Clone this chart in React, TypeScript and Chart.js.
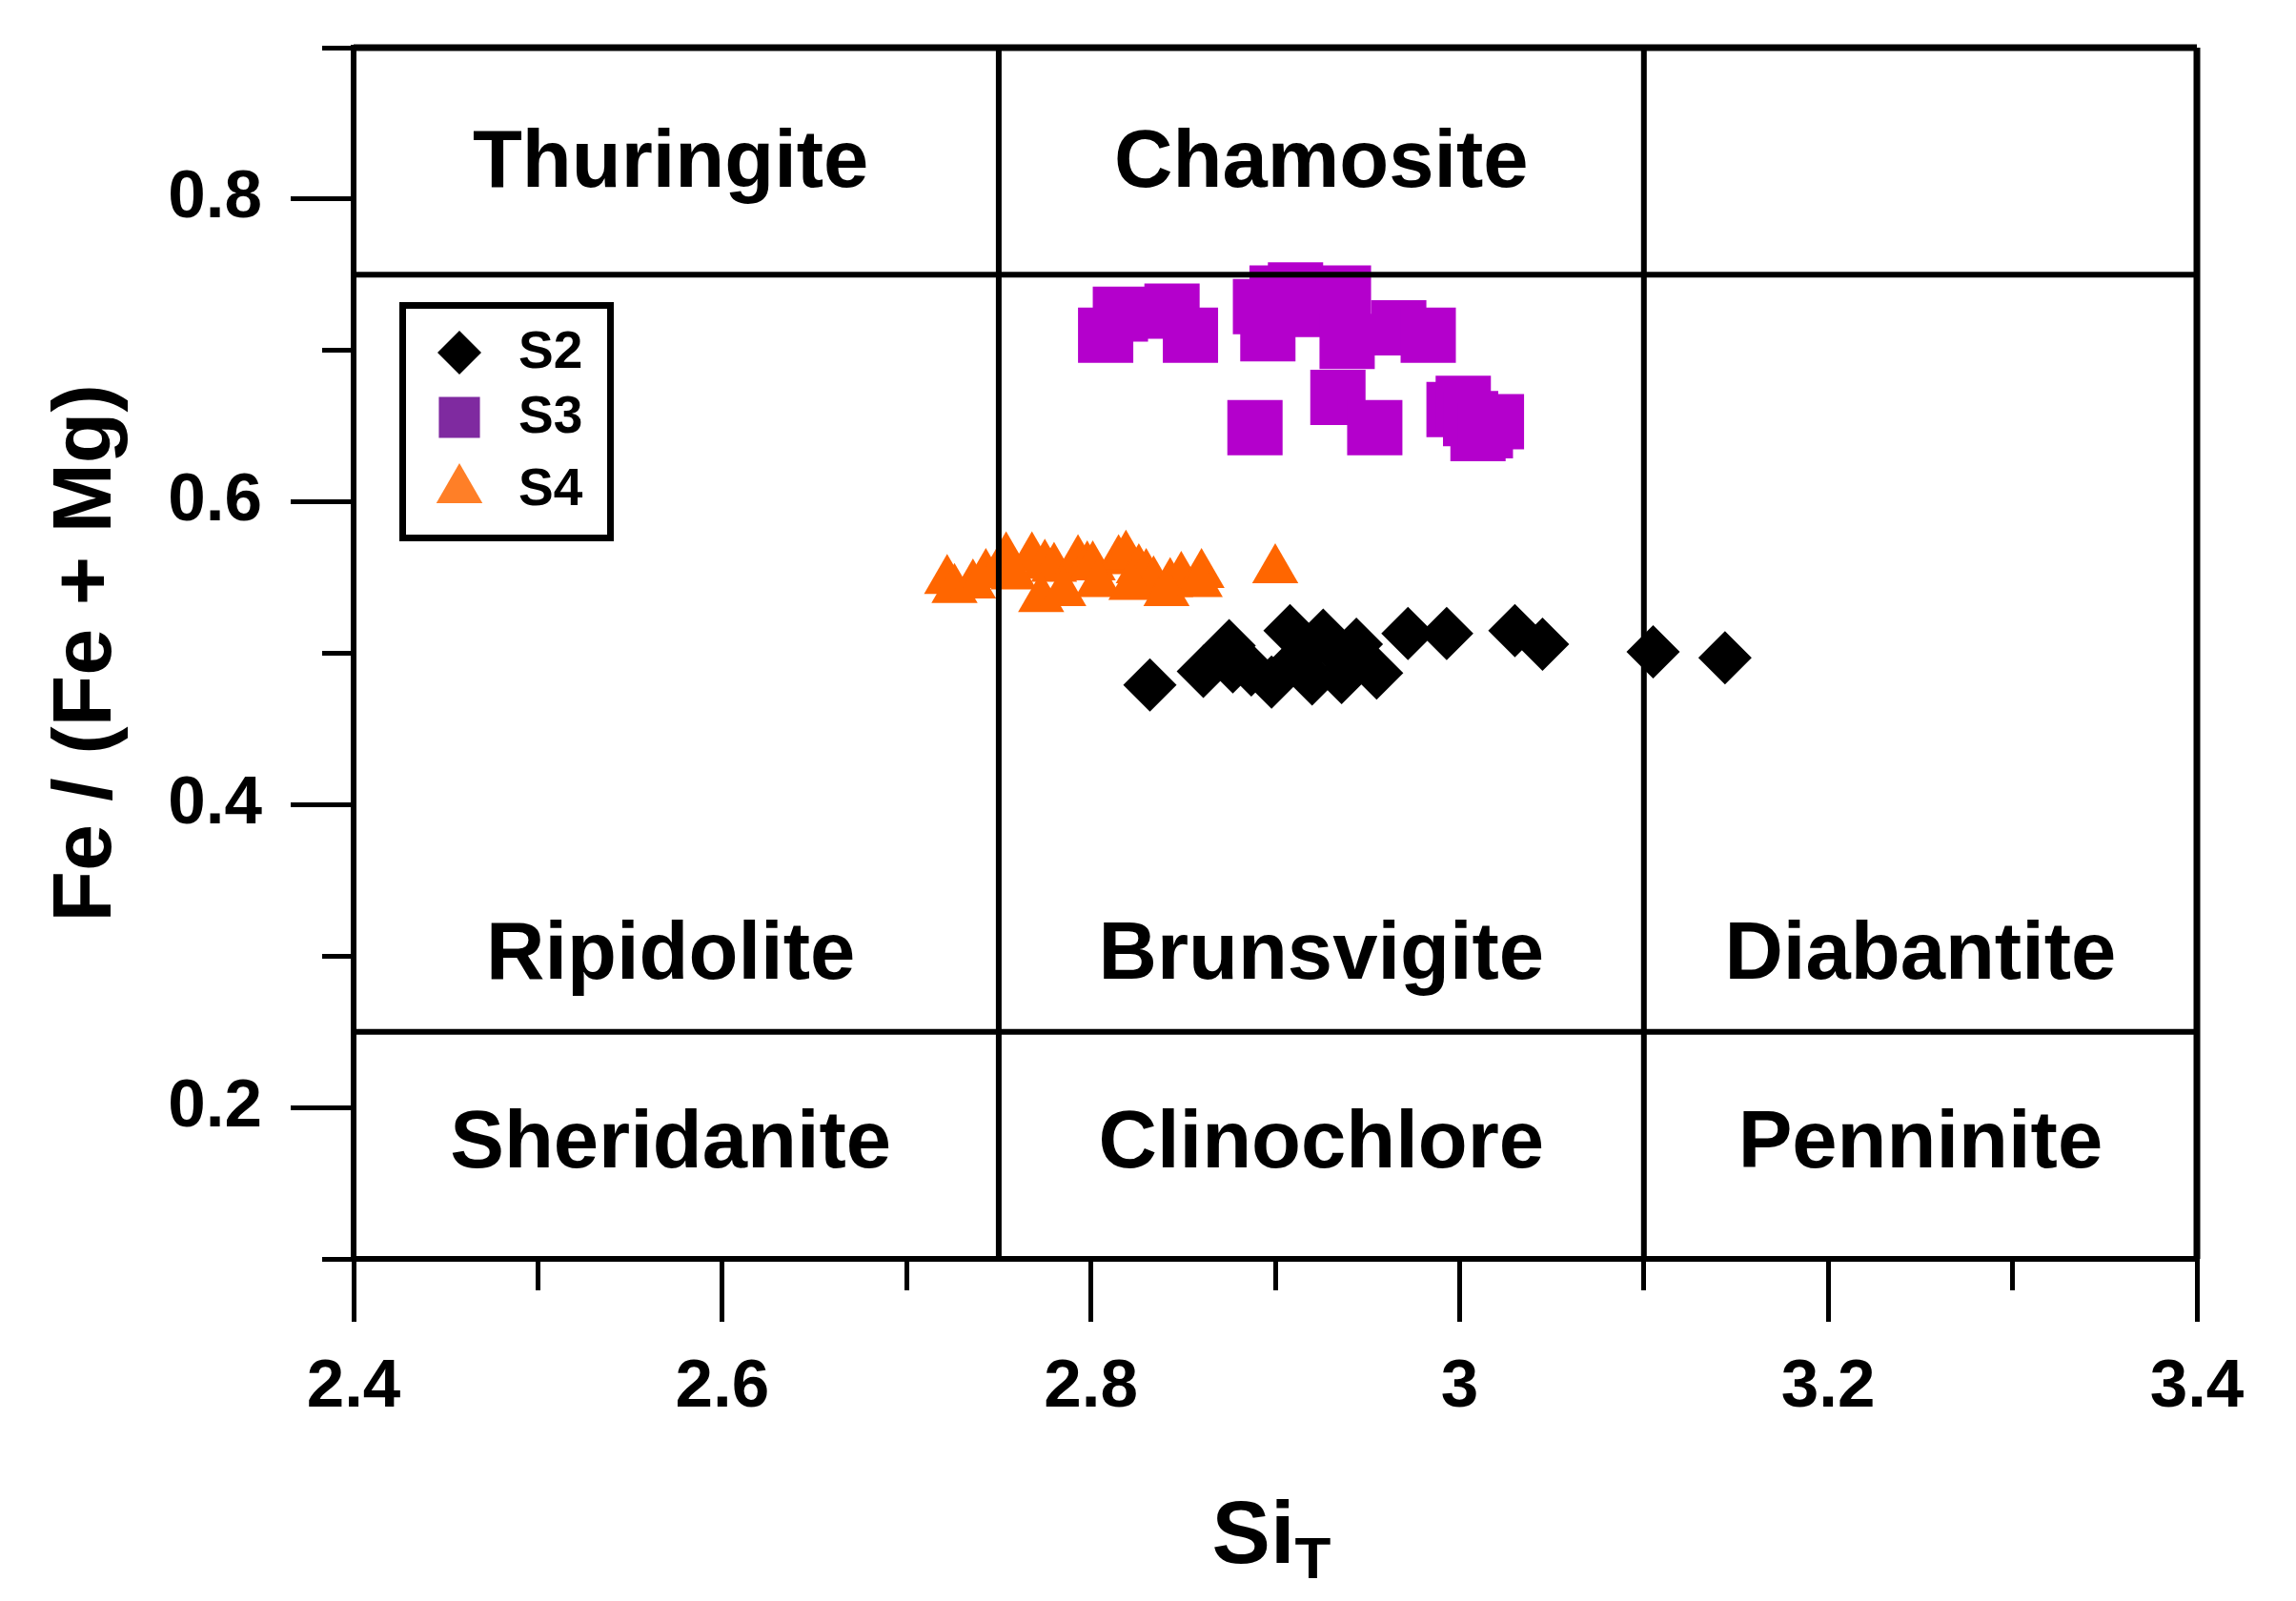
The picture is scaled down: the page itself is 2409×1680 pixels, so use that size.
import React, { useEffect, useRef } from 'react';
import { Chart, registerables } from 'chart.js';
import { drawPoint } from 'chart.js/helpers';

Chart.register(...registerables);

const FONT = '"Liberation Sans", Arial, Helvetica, sans-serif';

// ---- axis ticks ----
const xMajorTicks = [2.4, 2.6, 2.8, 3.0, 3.2, 3.4];
const xTickLabels = ['2.4', '2.6', '2.8', '3', '3.2', '3.4'];
const xMinorTicks = [2.4, 2.5, 2.6, 2.7, 2.8, 2.9, 3.0, 3.1, 3.2, 3.3, 3.4];
const yMajorTicks = [0.2, 0.4, 0.6, 0.8];
const yTickLabels = ['0.2', '0.4', '0.6', '0.8'];
const yMinorTicks = [0.1, 0.2, 0.3, 0.4, 0.5, 0.6, 0.7, 0.8, 0.9];

// ---- series ----
const s2X = [2.832, 2.861, 2.875, 2.877, 2.887, 2.898, 2.908, 2.926, 2.944, 2.920, 2.936, 2.955, 2.972, 2.993, 2.913, 2.937, 3.030, 3.045, 3.105, 3.144];
const s2Y = [0.479, 0.488, 0.505, 0.491, 0.489, 0.481, 0.515, 0.512, 0.506, 0.483, 0.484, 0.487, 0.513, 0.513, 0.497, 0.497, 0.515, 0.506, 0.501, 0.497];

const s3X = [2.808, 2.816, 2.844, 2.854, 2.896, 2.892, 2.901, 2.911, 2.937, 2.918, 2.967, 2.983, 2.939, 2.934, 2.954, 2.889, 2.997, 3.002, 3.020, 3.010, 3.006, 3.014];
const s3Y = [0.710, 0.724, 0.726, 0.710, 0.711, 0.729, 0.738, 0.740, 0.738, 0.727, 0.715, 0.710, 0.706, 0.669, 0.649, 0.649, 0.661, 0.665, 0.653, 0.645, 0.655, 0.647];

const s4X = [2.722, 2.726, 2.736, 2.743, 2.754, 2.768, 2.775, 2.780, 2.793, 2.798, 2.801, 2.815, 2.819, 2.826, 2.830, 2.834, 2.843, 2.849, 2.860, 2.900, 2.773, 2.785, 2.804, 2.822, 2.841, 2.859, 2.758];
const s4Y = [0.548, 0.542, 0.545, 0.552, 0.563, 0.563, 0.558, 0.556, 0.561, 0.557, 0.557, 0.561, 0.564, 0.555, 0.552, 0.547, 0.546, 0.550, 0.552, 0.555, 0.536, 0.540, 0.546, 0.544, 0.540, 0.546, 0.551];

// ---- classification diagram boundaries ----
const segX = [[2.4, 3.4], [2.4, 3.4], [2.4, 3.4], [2.75, 2.75], [3.1, 3.1], [3.4, 3.4]];
const segY = [[0.9, 0.9], [0.75, 0.75], [0.25, 0.25], [0.1, 0.9], [0.1, 0.9], [0.1, 0.9]];

const regionNames = ['Thuringite', 'Chamosite', 'Ripidolite', 'Brunsvigite', 'Diabantite', 'Sheridanite', 'Clinochlore', 'Penninite'];
const regionX = [2.572, 2.925, 2.572, 2.925, 3.25, 2.572, 2.925, 3.25];
const regionY = [0.823, 0.823, 0.30, 0.30, 0.30, 0.175, 0.175, 0.175];

const seriesNames = ['S2', 'S3', 'S4'];

export default function App() {
  const ref = useRef<HTMLCanvasElement>(null);

  useEffect(() => {
    document.body.style.margin = '0';
    const canvas = ref.current;
    if (!canvas) return;
    const pts = (xs: number[], ys: number[]) => xs.map((x, i) => ({ x, y: ys[i] }));

    const lineSets = segX.map((sx, i) => ({
      type: 'line' as const,
      label: 'boundary' + i,
      data: [{ x: sx[0], y: segY[i][0] }, { x: sx[1], y: segY[i][1] }],
      borderColor: '#000',
      borderWidth: i === 0 || i === 5 ? 7 : 6,
      pointRadius: 0,
      showLine: true,
      clip: false as const,
      xAxisID: 'x',
      yAxisID: 'y',
    }));

    const noPad = (s: any) => {
      s.paddingTop = 0;
      s.paddingBottom = 0;
      s.paddingLeft = 0;
      s.paddingRight = 0;
    };

    const regionPlugin = {
      id: 'regionLabels',
      afterDatasetsDraw(chart: any) {
        const { ctx } = chart;
        const xs = chart.scales.x;
        const ys = chart.scales.y;
        ctx.save();
        ctx.fillStyle = '#000';
        ctx.font = `bold 85px ${FONT}`;
        ctx.textAlign = 'center';
        ctx.textBaseline = 'middle';
        regionNames.forEach((n, i) => {
          ctx.fillText(n, xs.getPixelForValue(regionX[i]), ys.getPixelForValue(regionY[i]));
        });
        ctx.restore();
      },
    };

    const xTitlePlugin = {
      id: 'xTitle',
      afterDraw(chart: any) {
        const { ctx, chartArea } = chart;
        const cx = (chartArea.left + chartArea.right) / 2;
        ctx.save();
        ctx.fillStyle = '#000';
        ctx.textBaseline = 'alphabetic';
        ctx.textAlign = 'left';
        ctx.font = `bold 92px ${FONT}`;
        const w1 = ctx.measureText('Si').width;
        ctx.font = `bold 62px ${FONT}`;
        const w2 = ctx.measureText('T').width;
        const sx = cx - (w1 + w2) / 2 - 4;
        ctx.font = `bold 92px ${FONT}`;
        ctx.fillText('Si', sx, 1640);
        ctx.font = `bold 62px ${FONT}`;
        ctx.fillText('T', sx + w1, 1656);
        ctx.restore();
      },
    };

    const legendPlugin = {
      id: 'boxLegend',
      afterDraw(chart: any) {
        const { ctx } = chart;
        const styles = ['rectRot', 'rect', 'triangle'];
        const radii = [23, 30.5, 28];
        const colors = ['#000000', '#7F2AA0', '#FF7F27'];
        const rows = [370, 438, 514];
        ctx.save();
        ctx.fillStyle = '#fff';
        ctx.fillRect(422.5, 320.5, 218, 244);
        ctx.lineWidth = 7;
        ctx.strokeStyle = '#000';
        ctx.strokeRect(422.5, 320.5, 218, 244);
        seriesNames.forEach((name, i) => {
          ctx.fillStyle = colors[i];
          ctx.strokeStyle = colors[i];
          drawPoint(ctx, { pointStyle: styles[i], radius: radii[i], borderWidth: 0, rotation: 0 } as any, 482, rows[i]);
          ctx.fillStyle = '#000';
          ctx.font = `bold 55px ${FONT}`;
          ctx.textAlign = 'left';
          ctx.textBaseline = 'middle';
          ctx.fillText(name, 544, rows[i] + 1);
        });
        ctx.restore();
      },
    };

    const chart = new Chart(canvas, {
      type: 'scatter',
      data: {
        datasets: [
          ...lineSets,
          {
            label: seriesNames[0],
            data: pts(s2X, s2Y),
            pointStyle: 'rectRot',
            pointRadius: 28,
            backgroundColor: '#000000',
            borderWidth: 0,
            xAxisID: 'x',
            yAxisID: 'y',
          },
          {
            label: seriesNames[1],
            data: pts(s3X, s3Y),
            pointStyle: 'rect',
            pointRadius: 41,
            backgroundColor: '#B400CC',
            borderWidth: 0,
            xAxisID: 'x',
            yAxisID: 'y',
          },
          {
            label: seriesNames[2],
            data: pts(s4X, s4Y),
            pointStyle: 'triangle',
            pointRadius: 28,
            backgroundColor: '#FF6600',
            borderWidth: 0,
            xAxisID: 'x',
            yAxisID: 'y',
          },
        ] as any,
      },
      options: {
        animation: false,
        responsive: false,
        devicePixelRatio: 1,
        events: [],
        layout: { padding: { top: 50, right: 104, bottom: 0, left: 0 } },
        plugins: { legend: { display: false }, tooltip: { enabled: false } },
        scales: {
          x: {
            type: 'linear',
            axis: 'x',
            position: 'bottom',
            weight: 1,
            min: 2.4,
            max: 3.4,
            afterBuildTicks: (s: any) => { s.ticks = xMajorTicks.map((v) => ({ value: v })); },
            afterFit: (s: any) => { s.height = 359; noPad(s); },
            grid: { display: true, drawOnChartArea: false, drawTicks: true, tickLength: 66, tickWidth: 5, tickColor: '#000' },
            border: { display: true, color: '#000', width: 6 },
            ticks: {
              color: '#000',
              font: { family: FONT, size: 71, weight: 'bold' },
              padding: 27,
              maxRotation: 0,
              autoSkip: false,
              callback: (_v: any, i: number) => xTickLabels[i],
            },
            title: { display: false },
          },
          x2: {
            type: 'linear',
            axis: 'x',
            position: 'bottom',
            weight: 0,
            min: 2.4,
            max: 3.4,
            afterBuildTicks: (s: any) => { s.ticks = xMinorTicks.map((v) => ({ value: v })); },
            afterFit: (s: any) => { s.height = 0; noPad(s); },
            grid: { display: true, drawOnChartArea: false, drawTicks: true, tickLength: 33, tickWidth: 5, tickColor: '#000' },
            border: { display: false },
            ticks: { display: false },
          },
          y: {
            type: 'linear',
            axis: 'y',
            position: 'left',
            weight: 1,
            min: 0.1,
            max: 0.9,
            afterBuildTicks: (s: any) => { s.ticks = yMajorTicks.map((v) => ({ value: v })); },
            afterFit: (s: any) => { s.width = 371; noPad(s); },
            grid: { display: true, drawOnChartArea: false, drawTicks: true, tickLength: 66, tickWidth: 5, tickColor: '#000' },
            border: { display: true, color: '#000', width: 6 },
            ticks: {
              color: '#000',
              font: { family: FONT, size: 71, weight: 'bold' },
              padding: 30,
              autoSkip: false,
              callback: (_v: any, i: number) => yTickLabels[i],
            },
            title: {
              display: true,
              text: 'Fe / (Fe + Mg)',
              color: '#000',
              font: { family: FONT, size: 88, weight: 'bold' },
              padding: { top: 39, bottom: 0 },
            },
          },
          y2: {
            type: 'linear',
            axis: 'y',
            position: 'left',
            weight: 0,
            min: 0.1,
            max: 0.9,
            afterBuildTicks: (s: any) => { s.ticks = yMinorTicks.map((v) => ({ value: v })); },
            afterFit: (s: any) => { s.width = 0; noPad(s); },
            grid: { display: true, drawOnChartArea: false, drawTicks: true, tickLength: 33, tickWidth: 5, tickColor: '#000' },
            border: { display: false },
            ticks: { display: false },
          },
        },
      } as any,
      plugins: [regionPlugin, xTitlePlugin, legendPlugin],
    });

    return () => chart.destroy();
  }, []);

  return (
    <div style={{ position: 'absolute', left: 0, top: 0, width: 2409, height: 1680, background: '#fff' }}>
      <canvas ref={ref} width={2409} height={1680} style={{ width: 2409, height: 1680, display: 'block' }} />
    </div>
  );
}
